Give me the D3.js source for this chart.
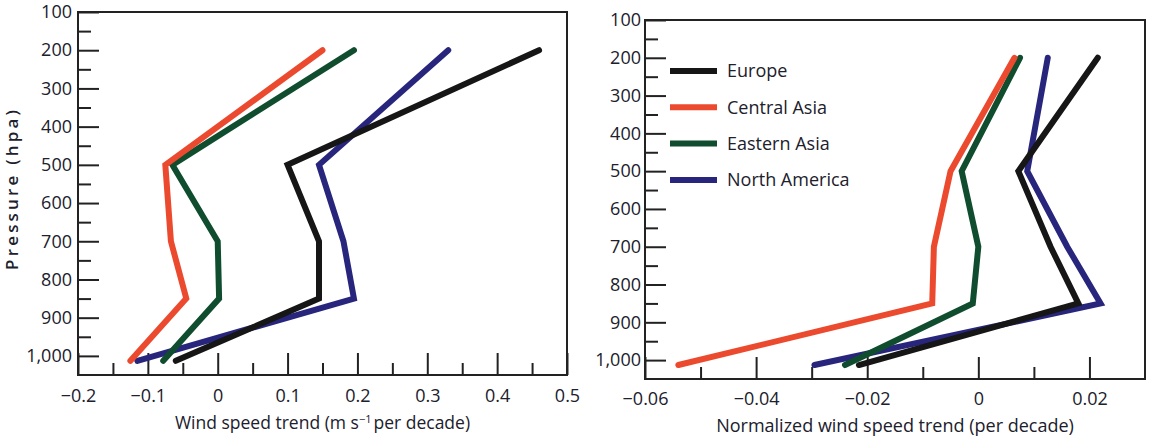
<!DOCTYPE html>
<html>
<head>
<meta charset="utf-8">
<script src="https://cdn.jsdelivr.net/npm/d3@7"></script>
<style>
  html, body { margin: 0; padding: 0; background: #fff; }
  svg { display: block; }
  text { font-family: "Open Sans", "Noto Sans", sans-serif; fill: #20202c; }
</style>
</head>
<body>
<svg id="chart" width="1150" height="440"></svg>
<script>
// Pressure levels (hPa) at which each regional trend profile is given
const levels = [200, 500, 700, 850, 1013];
const regions = ["Europe", "Central Asia", "Eastern Asia", "North America"];

// Wind speed trend, m s^-1 per decade
const europeAbs       = [0.46, 0.10, 0.145, 0.145, -0.06];
const centralAsiaAbs  = [0.15, -0.075, -0.067, -0.045, -0.125];
const easternAsiaAbs  = [0.195, -0.065, 0.0, 0.002, -0.078];
const northAmericaAbs = [0.33, 0.145, 0.18, 0.195, -0.115];

// Normalized wind speed trend, per decade
const europeNorm       = [0.0215, 0.0072, 0.013, 0.018, -0.0215];
const centralAsiaNorm  = [0.0065, -0.005, -0.008, -0.0083, -0.054];
const easternAsiaNorm  = [0.0075, -0.003, 0.0, -0.001, -0.024];
const northAmericaNorm = [0.0125, 0.0088, 0.016, 0.022, -0.0295];

// Axis ticks and their labels
const pressureTicks  = [100, 200, 300, 400, 500, 600, 700, 800, 900, 1000];
const pressureLabels = ["100", "200", "300", "400", "500", "600", "700", "800", "900", "1,000"];
const pressureMinor  = [150, 250, 350, 450, 550, 650, 750, 850, 950];

const absTicks  = [-0.2, -0.1, 0, 0.1, 0.2, 0.3, 0.4, 0.5];
const absLabels = ["\u22120.2", "\u22120.1", "0", "0.1", "0.2", "0.3", "0.4", "0.5"];
const absMinor  = [-0.15, -0.05, 0.05, 0.15, 0.25, 0.35, 0.45];

const normTicks  = [-0.06, -0.04, -0.02, 0, 0.02];
const normLabels = ["\u22120.06", "\u22120.04", "\u22120.02", "0", "0.02"];
const normMinor  = [-0.05, -0.03, -0.01, 0.01];

const colors = ["#161616", "#ec4a2e", "#0f4d2e", "#28257d"];
const drawOrder = [3, 2, 1, 0];

const svg = d3.select("#chart");

function panel(cfg) {
  const x = d3.scaleLinear().domain(cfg.xDomain).range([cfg.left, cfg.right]);
  const y = d3.scaleLinear().domain([100, 1050]).range([cfg.top, cfg.bottom]);
  const g = svg.append("g");

  // y axis: long ticks every 100 hPa, short ticks between, drawn inward
  const yMajor = d3.axisLeft(y).tickValues(pressureTicks)
    .tickFormat((d, i) => pressureLabels[i]).tickSize(-21).tickPadding(cfg.yPad);
  const yMinor = d3.axisLeft(y).tickValues(pressureMinor).tickFormat("").tickSize(-13);
  g.append("g").attr("transform", `translate(${cfg.left},0)`).call(yMajor);
  g.append("g").attr("transform", `translate(${cfg.left},0)`).call(yMinor);

  // x axis
  const xMajor = d3.axisBottom(x).tickValues(cfg.xTicks)
    .tickFormat((d, i) => cfg.xLabels[i]).tickSize(-22).tickPadding(cfg.xPad);
  const xMinor = d3.axisBottom(x).tickValues(cfg.xMinor).tickFormat("").tickSize(-12);
  g.append("g").attr("transform", `translate(0,${cfg.bottom})`).call(xMajor);
  g.append("g").attr("transform", `translate(0,${cfg.bottom})`).call(xMinor);

  g.selectAll(".domain").remove();
  g.selectAll(".tick line").attr("stroke", "#222").attr("stroke-width", 2);
  g.selectAll(".tick text")
    .style("font-size", "18px").style("font-weight", 500)
    .attr("fill", "#20202c");

  // frame
  g.append("rect")
    .attr("x", cfg.left).attr("y", cfg.top)
    .attr("width", cfg.right - cfg.left).attr("height", cfg.bottom - cfg.top)
    .attr("fill", "none").attr("stroke", "#222").attr("stroke-width", 2);

  // profiles
  const line = d3.line().x(d => x(d[0])).y(d => y(d[1]));
  drawOrder.forEach(k => {
    const pts = cfg.series[k].map((v, i) => [v, levels[i]]);
    g.append("path").datum(pts)
      .attr("d", line)
      .attr("fill", "none")
      .attr("stroke", colors[k])
      .attr("stroke-width", 6)
      .attr("stroke-linejoin", "miter")
      .attr("stroke-linecap", "round");
  });

  // x title
  const t = g.append("text")
    .attr("x", (cfg.left + cfg.right) / 2).attr("y", cfg.titleY)
    .attr("text-anchor", "middle")
    .style("font-size", cfg.titleSize);
  cfg.title(t);
  return { x, y, g };
}

panel({
  left: 78, right: 567, top: 12, bottom: 375,
  xDomain: [-0.2, 0.5], xTicks: absTicks, xLabels: absLabels, xMinor: absMinor,
  yPad: 6, xPad: 14, titleY: 429, titleSize: "17.5px",
  series: [europeAbs, centralAsiaAbs, easternAsiaAbs, northAmericaAbs],
  title: t => {
    t.append("tspan").text("Wind speed trend (m s");
    t.append("tspan").text("\u22121").attr("dy", -6).style("font-size", "11px");
    t.append("tspan").text("per decade)").attr("dy", 6).attr("dx", 2);
  }
});

panel({
  left: 645, right: 1145, top: 20, bottom: 379,
  xDomain: [-0.06, 0.03], xTicks: normTicks, xLabels: normLabels, xMinor: normMinor,
  yPad: 4, xPad: 13, titleY: 432, titleSize: "18px",
  series: [europeNorm, centralAsiaNorm, easternAsiaNorm, northAmericaNorm],
  title: t => t.text("Normalized wind speed trend (per decade)")
});

// y title for the left panel
svg.append("text")
  .attr("transform", "translate(18,190) rotate(-90)")
  .attr("text-anchor", "middle")
  .attr("textLength", 160).attr("lengthAdjust", "spacing")
  .style("font-size", "17px").style("font-weight", 600)
  .text("Pressure (hpa)");

// legend
const legend = svg.append("g").attr("transform", "translate(670,71)");
regions.forEach((name, i) => {
  const row = legend.append("g").attr("transform", `translate(0,${i * 36.3})`);
  row.append("line").attr("x1", 0).attr("x2", 47).attr("y1", 0).attr("y2", 0)
    .attr("stroke", colors[i]).attr("stroke-width", 6);
  row.append("text").attr("x", 57).attr("y", 0).attr("dy", "0.35em")
    .style("font-size", "18px").text(name);
});
</script>
</body>
</html>
